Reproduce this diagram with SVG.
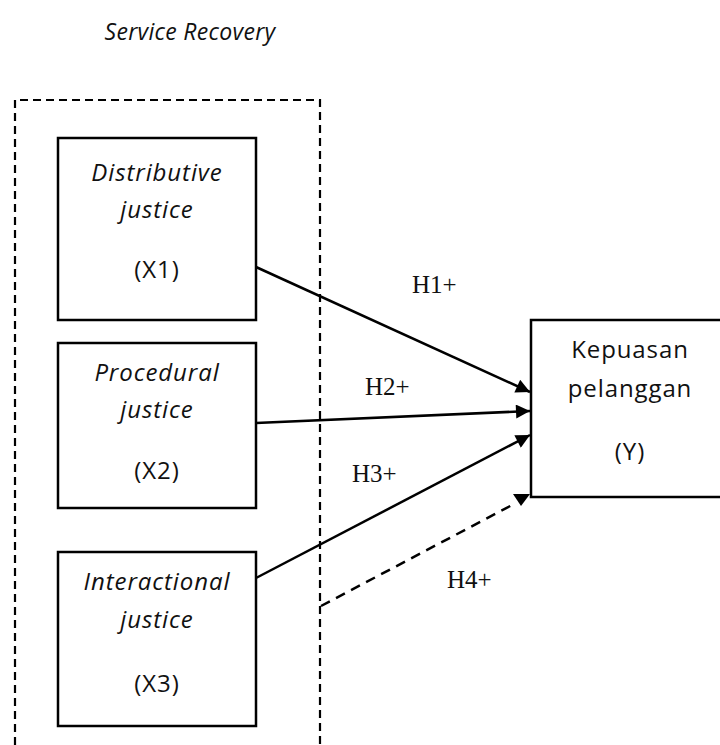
<svg xmlns="http://www.w3.org/2000/svg" width="720" height="745" viewBox="0 0 720 745">
<style>
.box{fill:#fff;stroke:#000;stroke-width:2.5}
.t{font-family:"Open Sans","Liberation Sans",sans-serif;font-size:24px;letter-spacing:0.9px;fill:#111;text-anchor:middle}
.i{font-style:italic}
.h{font-family:"Liberation Serif","Times New Roman",serif;font-size:25px;fill:#111}
.c{stroke:#000;stroke-width:2.5;fill:none}
</style>
<defs>
<marker id="ah" viewBox="0 0 10 10" refX="10" refY="5" markerWidth="18" markerHeight="14" markerUnits="userSpaceOnUse" orient="auto">
<path d="M0,0 L10,5 L0,10 z" fill="#000"/>
</marker>
</defs>
<text class="t i" x="190" y="40" style="font-size:23px;letter-spacing:0.3px">Service Recovery</text>
<g id="group">
<path d="M15,745 V100 H320 V745" fill="none" stroke="#000" stroke-width="2.2" stroke-dasharray="8,5"/>
</g>
<g id="x1">
<rect class="box" x="58" y="138" width="198" height="182"/>
<text class="t i" x="157" y="181">Distributive</text>
<text class="t i" x="157" y="218">justice</text>
<text class="t" x="157" y="278">(X1)</text>
</g>
<g id="x2">
<rect class="box" x="58" y="343" width="198" height="165"/>
<text class="t i" x="157" y="381">Procedural</text>
<text class="t i" x="157" y="418">justice</text>
<text class="t" x="157" y="479">(X2)</text>
</g>
<g id="x3">
<rect class="box" x="58" y="552" width="198" height="174"/>
<text class="t i" x="157" y="590">Interactional</text>
<text class="t i" x="157" y="628">justice</text>
<text class="t" x="157" y="692">(X3)</text>
</g>
<g id="y">
<rect class="box" x="531" y="320" width="200" height="177"/>
<text class="t" x="630" y="358">Kepuasan</text>
<text class="t" x="630" y="397">pelanggan</text>
<text class="t" x="630" y="460">(Y)</text>
</g>
<g id="connectors">
<line class="c" x1="256" y1="267" x2="530" y2="392" marker-end="url(#ah)"/>
<line class="c" x1="256" y1="423" x2="530" y2="411" marker-end="url(#ah)"/>
<line class="c" x1="256" y1="578" x2="530" y2="435" marker-end="url(#ah)"/>
<line class="c" x1="321" y1="606" x2="514" y2="504" stroke-dasharray="10,7"/>
<path d="M513,494 L530,494 L521,506 z" fill="#000"/>
</g>
<g id="labels">
<text class="h" x="412" y="293">H1+</text>
<text class="h" x="365" y="395">H2+</text>
<text class="h" x="352" y="482">H3+</text>
<text class="h" x="447" y="588">H4+</text>
</g>
</svg>
